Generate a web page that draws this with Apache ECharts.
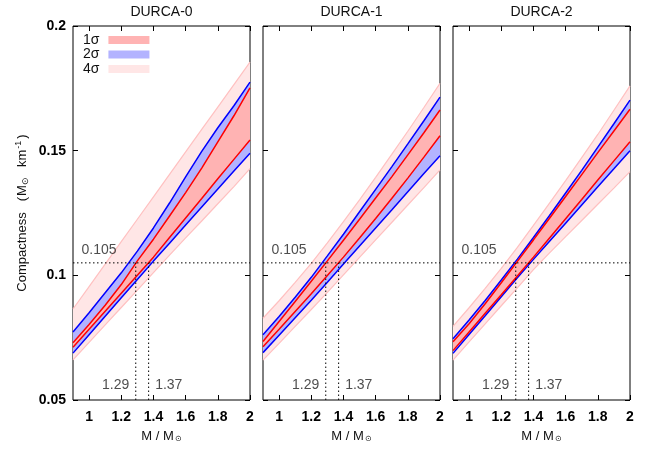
<!DOCTYPE html>
<html><head><meta charset="utf-8">
<script src="https://cdn.jsdelivr.net/npm/echarts@6/dist/echarts.min.js"></script>
<style>html,body{margin:0;padding:0;background:#fff}#c{width:668px;height:451px}</style>
</head><body><div id="c"></div>
<script>
// ---- data ----
const mass = [0.9, 1.0, 1.1, 1.2, 1.3, 1.4, 1.5, 1.6, 1.7, 1.8, 1.9, 2.0];
const titles = ['DURCA-0', 'DURCA-1', 'DURCA-2'];
const bandNames = ['1σ', '2σ', '4σ'];
const xTickValues = [1, 1.2, 1.4, 1.6, 1.8, 2];
const refCompactness = 0.105;
const refMasses = [1.29, 1.37];

// DURCA-0
const durca0_4sUpper = [0.0865, 0.0955, 0.1045, 0.1135, 0.1225, 0.1315, 0.1405, 0.1495, 0.1585, 0.1675, 0.1765, 0.1855];
const durca0_2sUpper = [0.0773, 0.0850, 0.0930, 0.1010, 0.1097, 0.1190, 0.1290, 0.1395, 0.1497, 0.1592, 0.1680, 0.1775];
const durca0_1sUpper = [0.0730, 0.0803, 0.0880, 0.0963, 0.1058, 0.1145, 0.1238, 0.1332, 0.1430, 0.1535, 0.1640, 0.1752];
const durca0_1sLower = [0.0712, 0.0784, 0.0856, 0.0928, 0.1000, 0.1073, 0.1152, 0.1230, 0.1308, 0.1387, 0.1465, 0.1543];
const durca0_2sLower = [0.0688, 0.0762, 0.0836, 0.0910, 0.0983, 0.1057, 0.1129, 0.1202, 0.1274, 0.1346, 0.1418, 0.1490];
const durca0_4sLower = [0.0661, 0.0731, 0.0801, 0.0871, 0.0941, 0.1011, 0.1081, 0.1150, 0.1218, 0.1287, 0.1356, 0.1428];

// DURCA-1
const durca1_4sUpper = [0.0828, 0.0898, 0.0972, 0.1048, 0.1130, 0.1215, 0.1303, 0.1393, 0.1485, 0.1578, 0.1673, 0.1770];
const durca1_2sUpper = [0.0762, 0.0835, 0.0912, 0.0992, 0.1078, 0.1165, 0.1255, 0.1345, 0.1435, 0.1527, 0.1620, 0.1715];
const durca1_1sUpper = [0.0735, 0.0815, 0.0895, 0.0976, 0.1058, 0.1141, 0.1225, 0.1310, 0.1395, 0.1483, 0.1572, 0.1663];
const durca1_1sLower = [0.0714, 0.0784, 0.0855, 0.0926, 0.0999, 0.1073, 0.1150, 0.1228, 0.1308, 0.1390, 0.1474, 0.1560];
const durca1_2sLower = [0.0690, 0.0760, 0.0830, 0.0900, 0.0972, 0.1045, 0.1118, 0.1190, 0.1262, 0.1335, 0.1408, 0.1480];
const durca1_4sLower = [0.0660, 0.0727, 0.0795, 0.0863, 0.0932, 0.1002, 0.1072, 0.1142, 0.1212, 0.1282, 0.1352, 0.1423];

// DURCA-2
const durca2_4sUpper = [0.0795, 0.0870, 0.0948, 0.1028, 0.1112, 0.1200, 0.1290, 0.1380, 0.1472, 0.1565, 0.1662, 0.1760];
const durca2_2sUpper = [0.0746, 0.0821, 0.0899, 0.0981, 0.1065, 0.1152, 0.1240, 0.1330, 0.1421, 0.1514, 0.1608, 0.1703];
const durca2_1sUpper = [0.0734, 0.0806, 0.0886, 0.0970, 0.1056, 0.1142, 0.1229, 0.1316, 0.1404, 0.1492, 0.1579, 0.1666];
const durca2_1sLower = [0.0698, 0.0773, 0.0848, 0.0922, 0.0997, 0.1073, 0.1150, 0.1227, 0.1304, 0.1382, 0.1459, 0.1536];
const durca2_2sLower = [0.0687, 0.0763, 0.0838, 0.0914, 0.0990, 0.1064, 0.1137, 0.1209, 0.1282, 0.1355, 0.1427, 0.1500];
const durca2_4sLower = [0.0660, 0.0733, 0.0805, 0.0878, 0.0950, 0.1023, 0.1090, 0.1155, 0.1220, 0.1285, 0.1350, 0.1416];

// ---- styling ----
const FONT = '"Liberation Sans", Arial, sans-serif';
const C_PINK_FILL = '#ffe6e6', C_PINK_LINE = '#ffc0c0';
const C_BLUE_FILL = '#b3b3ff', C_RED_FILL = '#ffb3b3';
const C_BLUE = '#0000ff', C_RED = '#ff0000';

const panels = [
  {u4: durca0_4sUpper, u2: durca0_2sUpper, u1: durca0_1sUpper, l1: durca0_1sLower, l2: durca0_2sLower, l4: durca0_4sLower},
  {u4: durca1_4sUpper, u2: durca1_2sUpper, u1: durca1_1sUpper, l1: durca1_1sLower, l2: durca1_2sLower, l4: durca1_4sLower},
  {u4: durca2_4sUpper, u2: durca2_2sUpper, u1: durca2_1sUpper, l1: durca2_1sLower, l2: durca2_2sLower, l4: durca2_4sLower}
];
const gridLefts = [73, 263, 453];
const GRID_TOP = 26, GRID_H = 374, GRID_W = 177;
const X_MIN = 0.9, X_MAX = 2, Y_MIN = 0.05, Y_MAX = 0.2, Y_STEP = 0.05;

const pairs = ys => mass.map((m, i) => [m, ys[i]]);

const grid = [], xAxis = [], yAxis = [], series = [], graphic = [];

panels.forEach((p, gi) => {
  grid.push({left: gridLefts[gi], top: GRID_TOP, width: GRID_W, height: GRID_H,
    show: true, borderColor: '#000', borderWidth: 1, backgroundColor: '#fff'});
  const xi = gi * 2, yi = gi * 2;
  const tickCommon = {show: true, inside: true, length: 5, lineStyle: {color: '#000', width: 1}};
  xAxis.push({gridIndex: gi, type: 'value', min: X_MIN, max: X_MAX, position: 'bottom',
    axisLine: {show: false}, splitLine: {show: false},
    axisTick: Object.assign({customValues: xTickValues}, tickCommon),
    axisLabel: {customValues: xTickValues, margin: 10, fontSize: 14, fontWeight: 'bold', color: '#000', fontFamily: FONT},
    name: 'M / M{s|⊙}', nameLocation: 'middle', nameGap: 29,
    nameTextStyle: {fontSize: 13, color: '#111', fontFamily: FONT,
      rich: {s: {fontSize: 8, verticalAlign: 'bottom', padding: [6, 0, 0, 1], fontFamily: FONT, color: '#111'}}}
  });
  xAxis.push({gridIndex: gi, type: 'value', min: X_MIN, max: X_MAX, position: 'top',
    axisLine: {show: false}, splitLine: {show: false},
    axisTick: Object.assign({customValues: xTickValues}, tickCommon),
    axisLabel: {show: false, customValues: xTickValues}});
  yAxis.push({gridIndex: gi, type: 'value', min: Y_MIN, max: Y_MAX, interval: Y_STEP, position: 'left',
    axisLine: {show: false}, splitLine: {show: false}, axisTick: tickCommon,
    axisLabel: {show: gi === 0, margin: 7, fontSize: 14, fontWeight: 'bold', color: '#000', fontFamily: FONT}});
  yAxis.push({gridIndex: gi, type: 'value', min: Y_MIN, max: Y_MAX, interval: Y_STEP, position: 'right',
    axisLine: {show: false}, splitLine: {show: false}, axisTick: tickCommon, axisLabel: {show: false}});

  const ax = {xAxisIndex: xi, yAxisIndex: yi};
  // band filled between lower and upper curves, drawn through the axes' coordinate mapping
  const band = (name, lo, hi, color) => Object.assign({
    type: 'custom', name: name, coordinateSystem: 'cartesian2d', silent: true, z: 2,
    itemStyle: {color: color},
    data: [[mass[0], lo[0]]],
    renderItem: (params, api) => {
      const pts = [];
      mass.forEach((m, i) => pts.push(api.coord([m, hi[i]])));
      for (let i = mass.length - 1; i >= 0; i--) pts.push(api.coord([mass[i], lo[i]]));
      return {type: 'polygon', shape: {points: pts}, style: {fill: color}};
    }
  }, ax);
  const line = (ys, color, width) => Object.assign({type: 'line', name: '_l', data: pairs(ys), symbol: 'none',
    silent: true, lineStyle: {color: color, width: width}, itemStyle: {color: color}, z: 3}, ax);

  series.push(band(bandNames[2], p.l4, p.u4, C_PINK_FILL));
  series.push(line(p.u4, C_PINK_LINE, 1.2), line(p.l4, C_PINK_LINE, 1.2));
  series.push(band(bandNames[1], p.l2, p.u2, C_BLUE_FILL));
  series.push(band(bandNames[0], p.l1, p.u1, C_RED_FILL));
  series.push(line(p.u2, C_BLUE, 1.5), line(p.l2, C_BLUE, 1.5));
  series.push(line(p.u1, C_RED, 1.5), line(p.l1, C_RED, 1.5));

  // dotted reference lines
  const dot = {color: '#000', width: 1, type: [1.5, 2.5]};
  series.push(Object.assign({type: 'line', name: '_d', data: [[X_MIN, refCompactness], [X_MAX, refCompactness]],
    symbol: 'none', silent: true, lineStyle: dot, z: 4}, ax));
  refMasses.forEach(m => series.push(Object.assign({type: 'line', name: '_d', data: [[m, Y_MIN], [m, refCompactness]],
    symbol: 'none', silent: true, lineStyle: dot, z: 4}, ax)));

  // annotation labels
  const lbl = {show: true, fontSize: 14, color: '#222', fontFamily: FONT};
  series.push(Object.assign({type: 'scatter', name: '_t', symbolSize: 1, silent: true,
    itemStyle: {color: 'rgba(0,0,0,0)'}, z: 5,
    data: [
      {value: [X_MIN, refCompactness], label: Object.assign({position: 'right', distance: 8, offset: [0, -13], formatter: String(refCompactness)}, lbl)},
      {value: [refMasses[0], Y_MIN], label: Object.assign({position: 'left', distance: 6, offset: [0, -15], formatter: String(refMasses[0])}, lbl)},
      {value: [refMasses[1], Y_MIN], label: Object.assign({position: 'right', distance: 6, offset: [0, -15], formatter: String(refMasses[1])}, lbl)}
    ]}, ax));

  graphic.push({type: 'text', x: gridLefts[gi] + GRID_W / 2, y: 12, silent: true,
    style: {text: titles[gi], align: 'center', verticalAlign: 'middle', textAlign: 'center', textVerticalAlign: 'middle',
      font: '14px ' + FONT, fill: '#111'}});
});

graphic.push({type: 'text', x: 22, y: 213, rotation: Math.PI / 2, silent: true,
  style: {text: 'Compactness   ({m|M}{s|⊙}  {m|km}{p|-1})', align: 'center', verticalAlign: 'middle',
    textAlign: 'center', textVerticalAlign: 'middle', font: '13px ' + FONT, fill: '#111',
    rich: {m: {fontSize: 13, fill: '#111', fontFamily: FONT, padding: [0, 0, 0, 1]},
           s: {fontSize: 9, verticalAlign: 'bottom', padding: [7, 2, 0, 0], fill: '#111', fontFamily: FONT},
           p: {fontSize: 9, verticalAlign: 'top', padding: [0, 2, 7, 1], fill: '#111', fontFamily: FONT}}}});

const chart = echarts.init(document.getElementById('c'), null, {renderer: 'canvas'});
chart.setOption({
  animation: false,
  backgroundColor: '#fff',
  textStyle: {fontFamily: FONT},
  grid, xAxis, yAxis, series, graphic,
  legend: {data: bandNames, orient: 'vertical', left: 78, top: 28, icon: 'rect', itemWidth: 41, itemHeight: 8,
    itemGap: 0.5, align: 'right', selectedMode: false,
    textStyle: {fontSize: 14, color: '#111', fontFamily: FONT, lineHeight: 12.5, padding: [0, 4, 0, 0]}}
});
</script></body></html>
